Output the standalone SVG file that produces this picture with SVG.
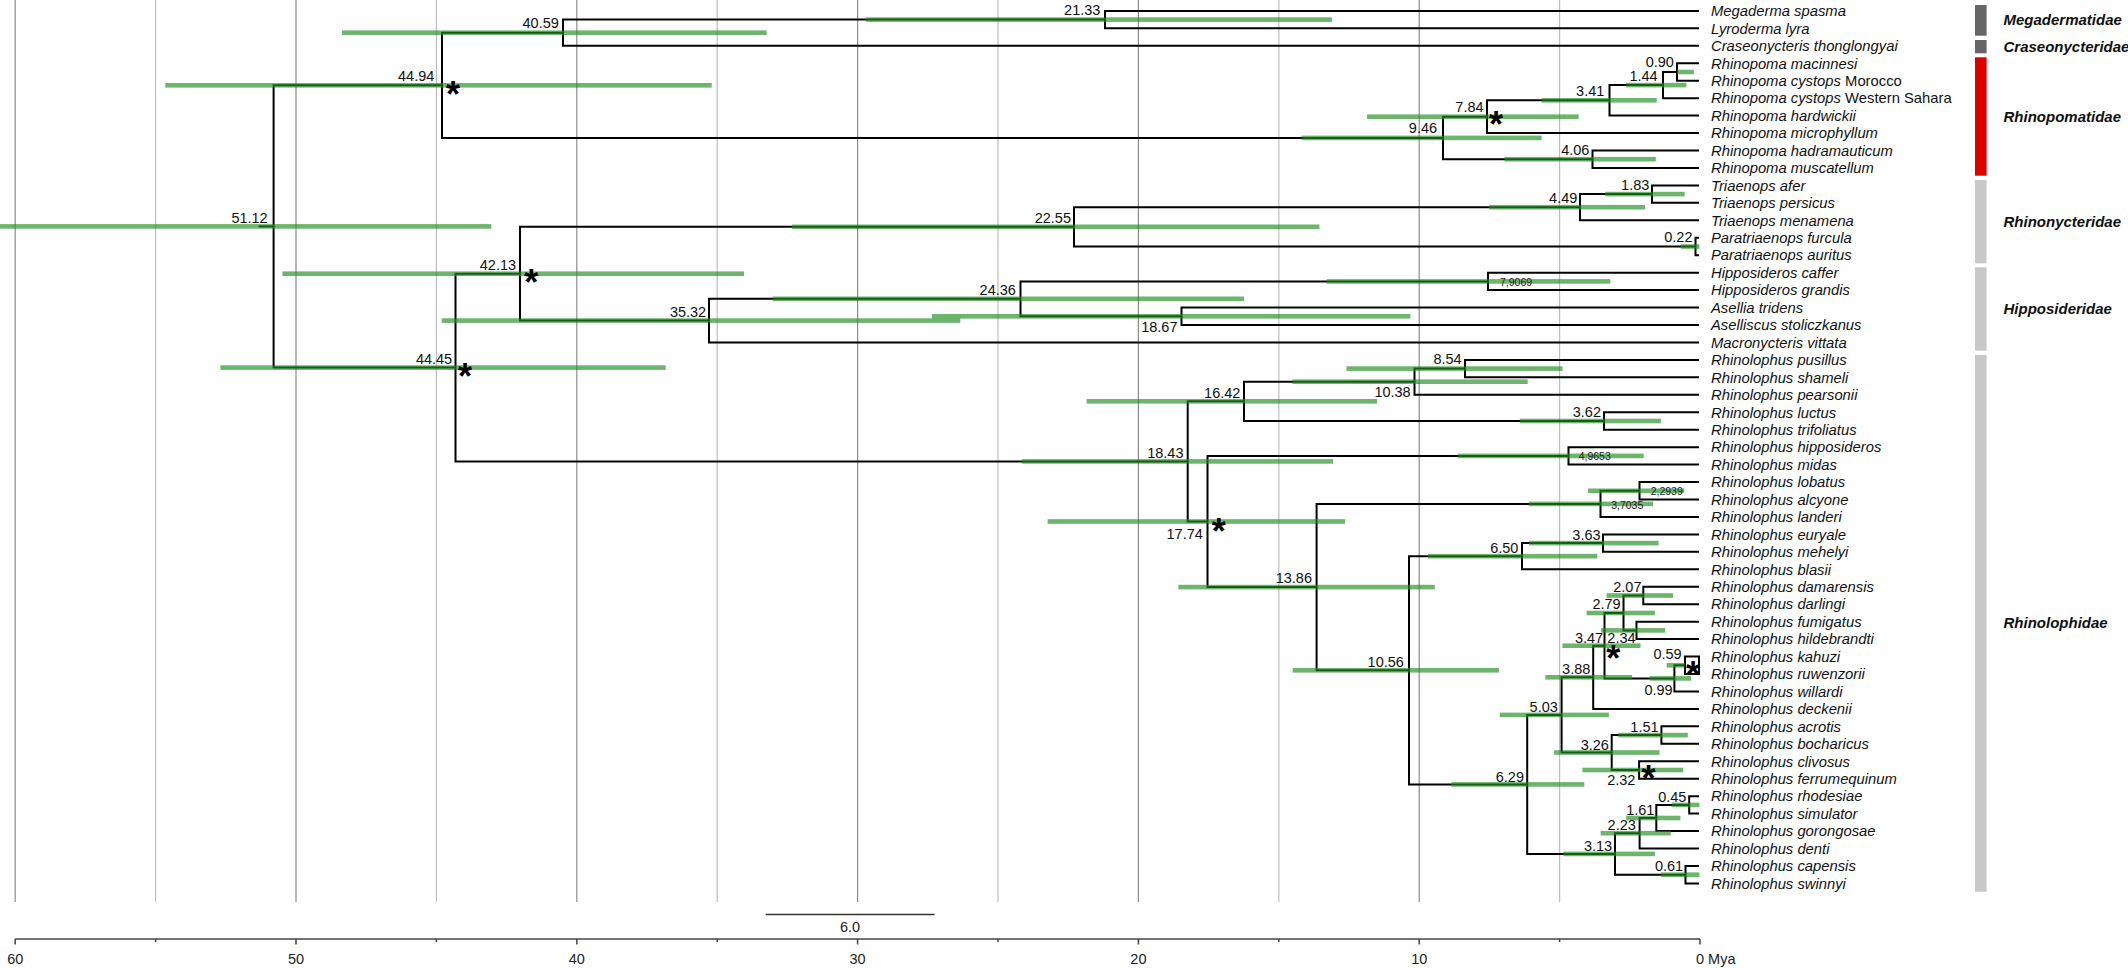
<svg xmlns="http://www.w3.org/2000/svg" width="2128" height="968" viewBox="0 0 2128 968">
<style>
.gmaj{stroke:#8c8c8c;stroke-width:1.2}
.gmin{stroke:#bdbdbd;stroke-width:1.2}
.br{fill:none;stroke:#000;stroke-width:2;stroke-linejoin:miter;stroke-linecap:butt}
.hpd{fill:#228d22;fill-opacity:0.66}
.nl{font-family:"Liberation Sans",Arial,sans-serif;font-size:14.5px;fill:#111;text-anchor:end}
.sl{font-family:"Liberation Sans",Arial,sans-serif;font-size:10.5px;fill:#222}
.ast{font-family:"Liberation Sans",Arial,sans-serif;font-size:36px;font-weight:bold;fill:#000;text-anchor:middle}
.tx{font-family:"Liberation Sans",Arial,sans-serif;font-size:14.8px;fill:#111}
.it{font-style:italic}
.fam{font-family:"Liberation Sans",Arial,sans-serif;font-size:15px;font-weight:bold;font-style:italic;fill:#111}
.ax{font-family:"Liberation Sans",Arial,sans-serif;font-size:14.5px;fill:#222}
</style>
<rect width="2128" height="968" fill="#fff"/>
<g id="grid">
<line class="gmaj" x1="15.2" y1="0" x2="15.2" y2="902"/>
<line class="gmin" x1="155.6" y1="0" x2="155.6" y2="902"/>
<line class="gmaj" x1="296" y1="0" x2="296" y2="902"/>
<line class="gmin" x1="436.4" y1="0" x2="436.4" y2="902"/>
<line class="gmaj" x1="576.8" y1="0" x2="576.8" y2="902"/>
<line class="gmin" x1="717.2" y1="0" x2="717.2" y2="902"/>
<line class="gmaj" x1="857.6" y1="0" x2="857.6" y2="902"/>
<line class="gmin" x1="998" y1="0" x2="998" y2="902"/>
<line class="gmaj" x1="1138.4" y1="0" x2="1138.4" y2="902"/>
<line class="gmin" x1="1278.8" y1="0" x2="1278.8" y2="902"/>
<line class="gmaj" x1="1419.2" y1="0" x2="1419.2" y2="902"/>
<line class="gmin" x1="1559.6" y1="0" x2="1559.6" y2="902"/>
</g>
<g id="connectors">
<path class="br" d="M258.5 226.4 H273.6"/>
<path class="br" d="M442 85.3 H273.6 V367.6 H455.5"/>
<path class="br" d="M563 32.7 H442 V137.9 H1443"/>
<path class="br" d="M1105 19.6 H563 V45.8 H1699"/>
<path class="br" d="M1699 10.9 H1105 V28.35 H1699"/>
<path class="br" d="M1487 116.7 H1443 V159.2 H1592.5"/>
<path class="br" d="M1609.5 100.3 H1487 V133.05 H1699"/>
<path class="br" d="M1663 85.1 H1609.5 V115.6 H1699"/>
<path class="br" d="M1677 72 H1663 V98.15 H1699"/>
<path class="br" d="M1699 63.25 H1677 V80.7 H1699"/>
<path class="br" d="M1699 150.5 H1592.5 V167.95 H1699"/>
<path class="br" d="M520 273.7 H455.5 V461.4 H1187.7"/>
<path class="br" d="M1074 226.8 H520 V320.6 H709"/>
<path class="br" d="M1580 207.2 H1074 V246.5 H1695.5"/>
<path class="br" d="M1652 194.1 H1580 V220.3 H1699"/>
<path class="br" d="M1699 185.4 H1652 V202.85 H1699"/>
<path class="br" d="M1699 237.75 H1695.5 V255.2 H1699"/>
<path class="br" d="M1020.5 298.8 H709 V342.45 H1699"/>
<path class="br" d="M1488 281.4 H1020.5 V316.3 H1181.5"/>
<path class="br" d="M1699 272.65 H1488 V290.1 H1699"/>
<path class="br" d="M1699 307.55 H1181.5 V325 H1699"/>
<path class="br" d="M1244 401.3 H1187.7 V521.5 H1207.5"/>
<path class="br" d="M1414.5 381.7 H1244 V421 H1604"/>
<path class="br" d="M1465 368.6 H1414.5 V394.8 H1699"/>
<path class="br" d="M1699 359.9 H1465 V377.35 H1699"/>
<path class="br" d="M1699 412.25 H1604 V429.7 H1699"/>
<path class="br" d="M1568.5 455.9 H1207.5 V587.1 H1316.6"/>
<path class="br" d="M1699 447.15 H1568.5 V464.6 H1699"/>
<path class="br" d="M1600.5 503.9 H1316.6 V670.3 H1409"/>
<path class="br" d="M1639.5 490.8 H1600.5 V516.95 H1699"/>
<path class="br" d="M1699 482.05 H1639.5 V499.5 H1699"/>
<path class="br" d="M1522 556.2 H1409 V784.4 H1527.2"/>
<path class="br" d="M1603 543.1 H1522 V569.3 H1699"/>
<path class="br" d="M1699 534.4 H1603 V551.85 H1699"/>
<path class="br" d="M1561.6 714.9 H1527.2 V853.9 H1615"/>
<path class="br" d="M1593.2 677.3 H1561.6 V752.5 H1611.7"/>
<path class="br" d="M1604.5 645.7 H1593.2 V708.9 H1699"/>
<path class="br" d="M1623.5 613 H1604.5 V678.4 H1674.4"/>
<path class="br" d="M1643.3 595.5 H1623.5 V630.4 H1636.5"/>
<path class="br" d="M1699 586.75 H1643.3 V604.2 H1699"/>
<path class="br" d="M1699 621.65 H1636.5 V639.1 H1699"/>
<path class="br" d="M1685 665.3 H1674.4 V691.45 H1699"/>
<path class="br" d="M1699 656.55 H1685 V674 H1699 Z"/>
<path class="br" d="M1661.4 735.1 H1611.7 V770 H1639.1"/>
<path class="br" d="M1699 726.35 H1661.4 V743.8 H1699"/>
<path class="br" d="M1699 761.25 H1639.1 V778.7 H1699"/>
<path class="br" d="M1639.6 833.2 H1615 V874.7 H1685.5"/>
<path class="br" d="M1656.3 818 H1639.6 V848.5 H1699"/>
<path class="br" d="M1689.2 804.9 H1656.3 V831.05 H1699"/>
<path class="br" d="M1699 796.15 H1689.2 V813.6 H1699"/>
<path class="br" d="M1699 865.95 H1685.5 V883.4 H1699"/>
</g>
<g id="hpd-bars">
<rect class="hpd" x="-10" y="224.1" width="501.3" height="4.6"/>
<rect class="hpd" x="165.3" y="83" width="546.4" height="4.6"/>
<rect class="hpd" x="342" y="30.4" width="424.6" height="4.6"/>
<rect class="hpd" x="866.2" y="17.3" width="465.6" height="4.6"/>
<rect class="hpd" x="1301.5" y="135.6" width="240.1" height="4.6"/>
<rect class="hpd" x="1367.1" y="114.4" width="211.6" height="4.6"/>
<rect class="hpd" x="1541.6" y="98" width="115.1" height="4.6"/>
<rect class="hpd" x="1626.1" y="82.8" width="60.3" height="4.6"/>
<rect class="hpd" x="1677.2" y="69.7" width="16.7" height="4.6"/>
<rect class="hpd" x="1504.5" y="156.9" width="151.3" height="4.6"/>
<rect class="hpd" x="220.4" y="365.3" width="445.3" height="4.6"/>
<rect class="hpd" x="282.4" y="271.4" width="461.6" height="4.6"/>
<rect class="hpd" x="791.8" y="224.5" width="527.6" height="4.6"/>
<rect class="hpd" x="1489.1" y="204.9" width="156" height="4.6"/>
<rect class="hpd" x="1605.2" y="191.8" width="79.4" height="4.6"/>
<rect class="hpd" x="1680.9" y="244.2" width="18.5" height="4.6"/>
<rect class="hpd" x="441.7" y="318.3" width="518.6" height="4.6"/>
<rect class="hpd" x="772.5" y="296.5" width="471.6" height="4.6"/>
<rect class="hpd" x="1326.7" y="279.1" width="283.6" height="4.6"/>
<rect class="hpd" x="931.9" y="314" width="478.4" height="4.6"/>
<rect class="hpd" x="1021.9" y="459.1" width="311.2" height="4.6"/>
<rect class="hpd" x="1086.6" y="399" width="290.6" height="4.6"/>
<rect class="hpd" x="1292.3" y="379.4" width="235.4" height="4.6"/>
<rect class="hpd" x="1346.5" y="366.3" width="216" height="4.6"/>
<rect class="hpd" x="1519.8" y="418.7" width="141.1" height="4.6"/>
<rect class="hpd" x="1047.6" y="519.2" width="297.5" height="4.6"/>
<rect class="hpd" x="1458" y="453.6" width="185.7" height="4.6"/>
<rect class="hpd" x="1178.4" y="584.8" width="256.4" height="4.6"/>
<rect class="hpd" x="1528.6" y="501.6" width="124.4" height="4.6"/>
<rect class="hpd" x="1588" y="488.5" width="96.1" height="4.6"/>
<rect class="hpd" x="1292.7" y="668" width="206.2" height="4.6"/>
<rect class="hpd" x="1427.9" y="553.9" width="169.4" height="4.6"/>
<rect class="hpd" x="1529" y="540.8" width="129.6" height="4.6"/>
<rect class="hpd" x="1451.1" y="782.1" width="133.2" height="4.6"/>
<rect class="hpd" x="1499.8" y="712.6" width="109.1" height="4.6"/>
<rect class="hpd" x="1545.3" y="675" width="86.8" height="4.6"/>
<rect class="hpd" x="1562.5" y="643.4" width="78" height="4.6"/>
<rect class="hpd" x="1586.6" y="610.7" width="68.3" height="4.6"/>
<rect class="hpd" x="1606.6" y="593.2" width="66.4" height="4.6"/>
<rect class="hpd" x="1601" y="628.1" width="64.1" height="4.6"/>
<rect class="hpd" x="1649.8" y="676.1" width="41.3" height="4.6"/>
<rect class="hpd" x="1666.7" y="663" width="18" height="4.6"/>
<rect class="hpd" x="1554.1" y="750.2" width="105.4" height="4.6"/>
<rect class="hpd" x="1618.2" y="732.8" width="69.6" height="4.6"/>
<rect class="hpd" x="1582.4" y="767.7" width="100.8" height="4.6"/>
<rect class="hpd" x="1563.4" y="851.6" width="91.5" height="4.6"/>
<rect class="hpd" x="1600.6" y="830.9" width="70.1" height="4.6"/>
<rect class="hpd" x="1626.1" y="815.7" width="54.3" height="4.6"/>
<rect class="hpd" x="1671.6" y="802.6" width="27.8" height="4.6"/>
<rect class="hpd" x="1660.9" y="872.4" width="38.5" height="4.6"/>
</g>
<g id="node-labels">
<text class="nl" x="1100.4" y="15">21.33</text>
<text class="nl" x="558.8" y="28.3">40.59</text>
<text class="nl" x="434.3" y="80.7">44.94</text>
<text class="nl" x="267.7" y="222.7">51.12</text>
<text class="nl" x="516.1" y="270">42.13</text>
<text class="nl" x="706.2" y="317.3">35.32</text>
<text class="nl" x="452.2" y="364">44.45</text>
<text class="nl" x="1071" y="223.3">22.55</text>
<text class="nl" x="1015.9" y="295">24.36</text>
<text class="nl" x="1177.5" y="332.3">18.67</text>
<text class="nl" x="1240.4" y="397.7">16.42</text>
<text class="nl" x="1410.7" y="396.7">10.38</text>
<text class="nl" x="1437.1" y="133.3">9.46</text>
<text class="nl" x="1673.9" y="66.7">0.90</text>
<text class="nl" x="1657.7" y="81">1.44</text>
<text class="nl" x="1604.3" y="95.7">3.41</text>
<text class="nl" x="1483.6" y="112.3">7.84</text>
<text class="nl" x="1589.4" y="155">4.06</text>
<text class="nl" x="1649.3" y="190">1.83</text>
<text class="nl" x="1577.3" y="203.3">4.49</text>
<text class="nl" x="1692.5" y="242.3">0.22</text>
<text class="nl" x="1461.7" y="364.3">8.54</text>
<text class="nl" x="1601" y="417.4">3.62</text>
<text class="nl" x="1183.5" y="458">18.43</text>
<text class="nl" x="1202.8" y="538.8">17.74</text>
<text class="nl" x="1312" y="583">13.86</text>
<text class="nl" x="1403.9" y="667">10.56</text>
<text class="nl" x="1600.6" y="539.5">3.63</text>
<text class="nl" x="1518.4" y="552.9">6.50</text>
<text class="nl" x="1641.5" y="591.8">2.07</text>
<text class="nl" x="1620.7" y="609.3">2.79</text>
<text class="nl" x="1603.2" y="643.3">3.47</text>
<text class="nl" x="1635.6" y="643.3">2.34</text>
<text class="nl" x="1681.7" y="659">0.59</text>
<text class="nl" x="1672.7" y="695">0.99</text>
<text class="nl" x="1590.3" y="674.3">3.88</text>
<text class="nl" x="1557.8" y="711.6">5.03</text>
<text class="nl" x="1658.6" y="731.5">1.51</text>
<text class="nl" x="1608.9" y="749.6">3.26</text>
<text class="nl" x="1635.4" y="785.1">2.32</text>
<text class="nl" x="1524" y="781.5">6.29</text>
<text class="nl" x="1686.4" y="802.2">0.45</text>
<text class="nl" x="1654.4" y="814.9">1.61</text>
<text class="nl" x="1635.8" y="830.1">2.23</text>
<text class="nl" x="1612.2" y="851.1">3.13</text>
<text class="nl" x="1683.2" y="871">0.61</text>
<text class="sl" x="1500" y="285.5">7,9069</text>
<text class="sl" x="1578.7" y="460">4,9653</text>
<text class="sl" x="1650.7" y="495.1">2,2939</text>
<text class="sl" x="1611.2" y="508.9">3,7035</text>
</g>
<g id="support-marks">
<text class="ast" x="453" y="106.5">*</text>
<text class="ast" x="531.2" y="294.8">*</text>
<text class="ast" x="465.1" y="388.5">*</text>
<text class="ast" x="1496.1" y="137.2">*</text>
<text class="ast" x="1218.8" y="543.7">*</text>
<text class="ast" x="1613.3" y="671.2">*</text>
<text class="ast" x="1693" y="686.5">*</text>
<text class="ast" x="1648.4" y="790.8">*</text>
</g>
<g id="taxa" class="tx">
<g id="t01"><text class="it" x="1711" y="16.1">Megaderma spasma</text></g>
<g id="t02"><text class="it" x="1711" y="33.6">Lyroderma lyra</text></g>
<g id="t03"><text class="it" x="1711" y="51">Craseonycteris thonglongyai</text></g>
<g id="t04"><text class="it" x="1711" y="68.5">Rhinopoma macinnesi</text></g>
<g id="t05"><text x="1711" y="85.9"><tspan class="it">Rhinopoma cystops</tspan> Morocco</text></g>
<g id="t06"><text x="1711" y="103.4"><tspan class="it">Rhinopoma cystops</tspan> Western Sahara</text></g>
<g id="t07"><text class="it" x="1711" y="120.8">Rhinopoma hardwickii</text></g>
<g id="t08"><text class="it" x="1711" y="138.3">Rhinopoma microphyllum</text></g>
<g id="t09"><text class="it" x="1711" y="155.7">Rhinopoma hadramauticum</text></g>
<g id="t10"><text class="it" x="1711" y="173.2">Rhinopoma muscatellum</text></g>
<g id="t11"><text class="it" x="1711" y="190.6">Triaenops afer</text></g>
<g id="t12"><text class="it" x="1711" y="208.1">Triaenops persicus</text></g>
<g id="t13"><text class="it" x="1711" y="225.5">Triaenops menamena</text></g>
<g id="t14"><text class="it" x="1711" y="243">Paratriaenops furcula</text></g>
<g id="t15"><text class="it" x="1711" y="260.4">Paratriaenops auritus</text></g>
<g id="t16"><text class="it" x="1711" y="277.9">Hipposideros caffer</text></g>
<g id="t17"><text class="it" x="1711" y="295.3">Hipposideros grandis</text></g>
<g id="t18"><text class="it" x="1711" y="312.8">Asellia tridens</text></g>
<g id="t19"><text class="it" x="1711" y="330.2">Aselliscus stoliczkanus</text></g>
<g id="t20"><text class="it" x="1711" y="347.7">Macronycteris vittata</text></g>
<g id="t21"><text class="it" x="1711" y="365.1">Rhinolophus pusillus</text></g>
<g id="t22"><text class="it" x="1711" y="382.6">Rhinolophus shameli</text></g>
<g id="t23"><text class="it" x="1711" y="400">Rhinolophus pearsonii</text></g>
<g id="t24"><text class="it" x="1711" y="417.5">Rhinolophus luctus</text></g>
<g id="t25"><text class="it" x="1711" y="434.9">Rhinolophus trifoliatus</text></g>
<g id="t26"><text class="it" x="1711" y="452.4">Rhinolophus hipposideros</text></g>
<g id="t27"><text class="it" x="1711" y="469.8">Rhinolophus midas</text></g>
<g id="t28"><text class="it" x="1711" y="487.3">Rhinolophus lobatus</text></g>
<g id="t29"><text class="it" x="1711" y="504.7">Rhinolophus alcyone</text></g>
<g id="t30"><text class="it" x="1711" y="522.2">Rhinolophus landeri</text></g>
<g id="t31"><text class="it" x="1711" y="539.6">Rhinolophus euryale</text></g>
<g id="t32"><text class="it" x="1711" y="557.1">Rhinolophus mehelyi</text></g>
<g id="t33"><text class="it" x="1711" y="574.5">Rhinolophus blasii</text></g>
<g id="t34"><text class="it" x="1711" y="592">Rhinolophus damarensis</text></g>
<g id="t35"><text class="it" x="1711" y="609.4">Rhinolophus darlingi</text></g>
<g id="t36"><text class="it" x="1711" y="626.9">Rhinolophus fumigatus</text></g>
<g id="t37"><text class="it" x="1711" y="644.3">Rhinolophus hildebrandti</text></g>
<g id="t38"><text class="it" x="1711" y="661.8">Rhinolophus kahuzi</text></g>
<g id="t39"><text class="it" x="1711" y="679.2">Rhinolophus ruwenzorii</text></g>
<g id="t40"><text class="it" x="1711" y="696.7">Rhinolophus willardi</text></g>
<g id="t41"><text class="it" x="1711" y="714.1">Rhinolophus deckenii</text></g>
<g id="t42"><text class="it" x="1711" y="731.6">Rhinolophus acrotis</text></g>
<g id="t43"><text class="it" x="1711" y="749">Rhinolophus bocharicus</text></g>
<g id="t44"><text class="it" x="1711" y="766.5">Rhinolophus clivosus</text></g>
<g id="t45"><text class="it" x="1711" y="783.9">Rhinolophus ferrumequinum</text></g>
<g id="t46"><text class="it" x="1711" y="801.4">Rhinolophus rhodesiae</text></g>
<g id="t47"><text class="it" x="1711" y="818.8">Rhinolophus simulator</text></g>
<g id="t48"><text class="it" x="1711" y="836.3">Rhinolophus gorongosae</text></g>
<g id="t49"><text class="it" x="1711" y="853.7">Rhinolophus denti</text></g>
<g id="t50"><text class="it" x="1711" y="871.2">Rhinolophus capensis</text></g>
<g id="t51"><text class="it" x="1711" y="888.6">Rhinolophus swinnyi</text></g>
</g>
<g id="families">
<g id="f-megadermatidae"><rect x="1975" y="5" width="11.6" height="30.7" fill="#666"/><text class="fam" x="2003.5" y="25.4">Megadermatidae</text></g>
<g id="f-craseonycteridae"><rect x="1975" y="40" width="11.6" height="13.3" fill="#666"/><text class="fam" x="2003.5" y="51.7">Craseonycteridae</text></g>
<g id="f-rhinopomatidae"><rect x="1975" y="57.3" width="11.6" height="118.4" fill="#dd0000"/><text class="fam" x="2003.5" y="121.5">Rhinopomatidae</text></g>
<g id="f-rhinonycteridae"><rect x="1975" y="180" width="11.6" height="83.3" fill="#c8c8c8"/><text class="fam" x="2003.5" y="226.7">Rhinonycteridae</text></g>
<g id="f-hipposideridae"><rect x="1975" y="267.3" width="11.6" height="83.4" fill="#c8c8c8"/><text class="fam" x="2003.5" y="314">Hipposideridae</text></g>
<g id="f-rhinolophidae"><rect x="1975" y="355" width="11.6" height="536.7" fill="#c8c8c8"/><text class="fam" x="2003.5" y="628.4">Rhinolophidae</text></g>
</g>
<g id="scale-bar">
<line x1="765.7" y1="914.5" x2="934.6" y2="914.5" stroke="#333" stroke-width="1.3"/>
<text class="ax" x="850" y="932" text-anchor="middle" font-size="12">6.0</text>
</g>
<g id="axis">
<path d="M15.2 939 H1700" stroke="#444" stroke-width="1.5" fill="none"/>
<path d="M15.2 939v5.5M155.6 939v3M296 939v5.5M436.4 939v3M576.8 939v5.5M717.2 939v3M857.6 939v5.5M998 939v3M1138.4 939v5.5M1278.8 939v3M1419.2 939v5.5M1559.6 939v3M1700 939v5.5" stroke="#444" stroke-width="1.5" fill="none"/>
<text class="ax" x="15.2" y="963.5" text-anchor="middle">60</text>
<text class="ax" x="296" y="963.5" text-anchor="middle">50</text>
<text class="ax" x="576.8" y="963.5" text-anchor="middle">40</text>
<text class="ax" x="857.6" y="963.5" text-anchor="middle">30</text>
<text class="ax" x="1138.4" y="963.5" text-anchor="middle">20</text>
<text class="ax" x="1419.2" y="963.5" text-anchor="middle">10</text>
<text class="ax" x="1696" y="963.5">0 Mya</text>
</g>
</svg>
